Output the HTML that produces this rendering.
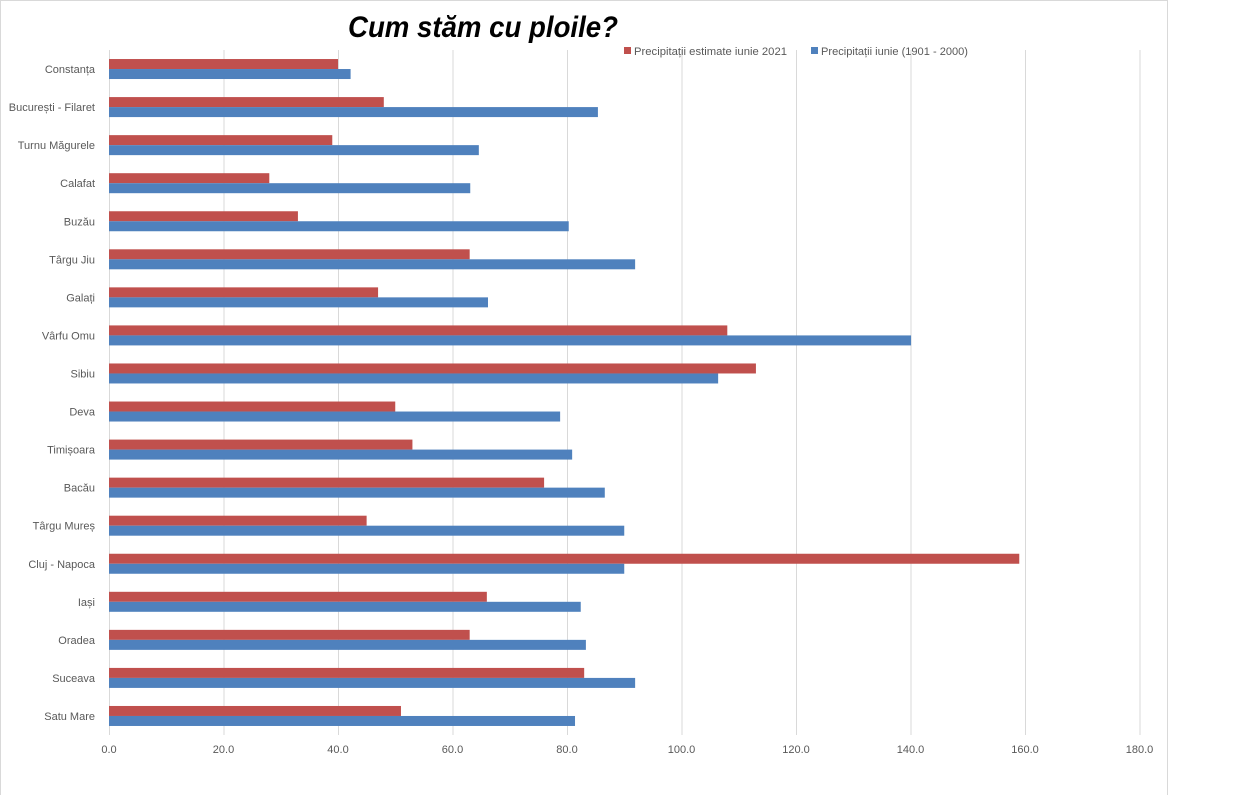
<!DOCTYPE html>
<html><head><meta charset="utf-8"><style>
body{margin:0;background:#fff;font-family:"Liberation Sans",sans-serif;}
svg{display:block}
</style></head><body>
<svg id="chart" width="1249" height="795" viewBox="0 0 1249 795">
<rect x="0" y="0" width="1249" height="795" fill="#fff"/>
<line x1="0.5" y1="0" x2="0.5" y2="795" stroke="#d9d9d9"/>
<line x1="1167.5" y1="0" x2="1167.5" y2="795" stroke="#d9d9d9"/>
<line x1="0" y1="0.5" x2="1168" y2="0.5" stroke="#d9d9d9"/>
<text x="348" y="37" font-size="30" font-weight="bold" font-style="italic" fill="#000" textLength="270" lengthAdjust="spacingAndGlyphs">Cum stăm cu ploile?</text>
<g id="grid"></g>
<g id="bars"></g>
<g id="labels"></g>
<g font-size="11" fill="#595959">
<rect x="624" y="47" width="7" height="7" fill="#c0504d"/>
<text x="634" y="55" textLength="153" lengthAdjust="spacingAndGlyphs">Precipitații estimate iunie 2021</text>
<rect x="811" y="47" width="7" height="7" fill="#4f81bd"/>
<text x="821" y="55" textLength="147" lengthAdjust="spacingAndGlyphs">Precipitații iunie (1901 - 2000)</text>
</g>
</svg>
<script>
const categories=["Constanța","București - Filaret","Turnu Măgurele","Calafat","Buzău","Târgu Jiu","Galați","Vârfu Omu","Sibiu","Deva","Timișoara","Bacău","Târgu Mureș","Cluj - Napoca","Iași","Oradea","Suceava","Satu Mare"];
const est2021=[40,48,39,28,33,63,47,108,113,50,53,76,45,159,66,63,83,51];
const normal=[42.2,85.4,64.6,63.1,80.3,91.9,66.2,140.1,106.4,78.8,80.9,86.6,90,90,82.4,83.3,91.9,81.4];
const ticks=[0,20,40,60,80,100,120,140,160,180];
const ns="http://www.w3.org/2000/svg";
const x0=109,pxPer=5.725,plotTop=50,plotBottom=735;
const band=(plotBottom-plotTop)/categories.length;
function xs(v){return x0+v*pxPer;}
function yc(i){return plotTop+band*(i+0.5);}
function mk(tag,attrs,parent){const e=document.createElementNS(ns,tag);for(const k in attrs)e.setAttribute(k,attrs[k]);document.getElementById(parent).appendChild(e);return e;}
ticks.forEach(t=>{
 const l=mk('line',{x1:xs(t)+0.5,x2:xs(t)+0.5,y1:plotTop,y2:plotBottom,stroke:'#d9d9d9'},'grid');
 
 
 const tx=mk('text',{x:xs(t),y:753,'text-anchor':'middle','font-size':11,fill:'#595959'},'labels');
 tx.textContent=t.toFixed(1);
 
 
});
categories.forEach((c,i)=>{
 const y=yc(i);
 const r=mk('rect',{x:x0,y:y-10,width:xs(est2021[i])-x0,height:10,fill:'#c0504d'},'bars');
 
 
 const b=mk('rect',{x:x0,y:y,width:xs(normal[i])-x0,height:10,fill:'#4f81bd'},'bars');
 
 
 const t=mk('text',{x:95,y:y+4,'text-anchor':'end','font-size':11,fill:'#595959'},'labels');
 t.textContent=c;
 
 
});
</script>
</body></html>
